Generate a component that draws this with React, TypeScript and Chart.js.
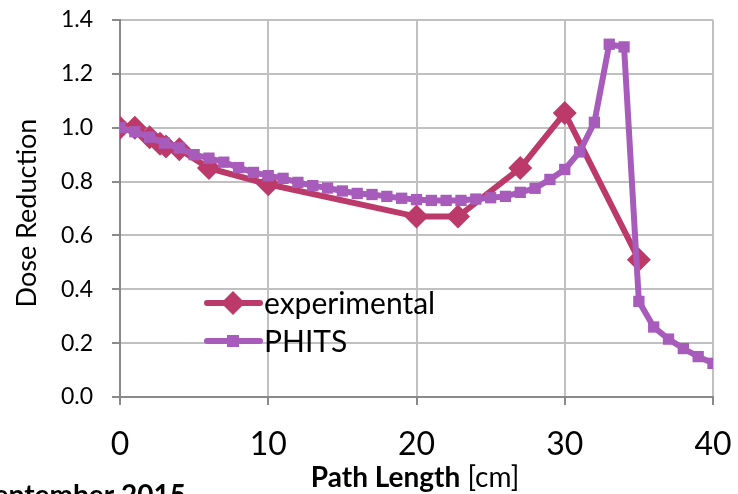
import React, { useEffect, useRef } from "react";
import { Chart, registerables } from "chart.js";

Chart.register(...registerables);

const expX = [0, 1, 2, 2.7, 3.1, 4, 6, 10, 20, 22.8, 27, 30, 35];
const expY = [1.0, 1.0, 0.965, 0.94, 0.93, 0.92, 0.85, 0.79, 0.67, 0.67, 0.85, 1.055, 0.51];

const phitsX = [0, 1, 2, 3, 4, 5, 6, 7, 8, 9, 10, 11, 12, 13, 14, 15, 16, 17, 18, 19, 20, 21, 22, 23, 24, 25, 26, 27, 28, 29, 30, 31, 32, 33, 34, 35, 36, 37, 38, 39, 40];
const phitsY = [1.0, 0.985, 0.965, 0.943, 0.925, 0.9, 0.887, 0.872, 0.852, 0.834, 0.822, 0.812, 0.797, 0.785, 0.776, 0.765, 0.756, 0.752, 0.745, 0.738, 0.733, 0.73, 0.73, 0.73, 0.735, 0.74, 0.745, 0.76, 0.775, 0.808, 0.845, 0.91, 1.02, 1.31, 1.3, 0.355, 0.26, 0.215, 0.18, 0.15, 0.125];

const xTicks = [0, 10, 20, 30, 40];
const yTickLabels = ["0.0", "0.2", "0.4", "0.6", "0.8", "1.0", "1.2", "1.4"];

const seriesNames = ["experimental", "PHITS"];
const EXP_COLOR = "#BC3A6A";
const PHITS_COLOR = "#A75CBC";
const FONT = "Lato, 'Open Sans', sans-serif";

export default function App() {
  const ref = useRef<HTMLCanvasElement | null>(null);

  useEffect(() => {
    if (!ref.current) return;
    const overlay = {
      id: "overlay",
      afterDraw(chart: any) {
        const ctx = chart.ctx;
        ctx.save();
        ctx.fillStyle = "#000";
        // y title
        ctx.save();
        ctx.translate(27, 213);
        ctx.rotate(-Math.PI / 2);
        ctx.font = `27px ${FONT}`;
        ctx.textAlign = "center";
        ctx.textBaseline = "middle";
        ctx.fillText("Dose Reduction", 0, 0);
        ctx.restore();
        // x title
        const boldTxt = "Path Length";
        const normTxt = " [cm]";
        ctx.font = `bold 28px ${FONT}`;
        const w1 = ctx.measureText(boldTxt).width;
        ctx.font = `28px ${FONT}`;
        const w2 = ctx.measureText(normTxt).width;
        const cx = 415;
        const sx = cx - (w1 + w2) / 2;
        ctx.textBaseline = "alphabetic";
        ctx.textAlign = "left";
        ctx.font = `bold 28px ${FONT}`;
        ctx.fillText(boldTxt, sx, 487);
        ctx.font = `28px ${FONT}`;
        ctx.fillText(normTxt, sx + w1, 487);
        // footer
        ctx.font = `bold 28px ${FONT}`;
        ctx.textAlign = "right";
        ctx.fillText("September 2015", 186, 505);
        // legend
        const items = [
          { name: seriesNames[0], color: EXP_COLOR, style: "diamond", y: 303 },
          { name: seriesNames[1], color: PHITS_COLOR, style: "square", y: 341 },
        ];
        for (const it of items) {
          ctx.strokeStyle = it.color;
          ctx.lineWidth = 6;
          ctx.lineCap = "round";
          ctx.beginPath();
          ctx.moveTo(207, it.y);
          ctx.lineTo(260, it.y);
          ctx.stroke();
          ctx.fillStyle = it.color;
          if (it.style === "diamond") {
            ctx.beginPath();
            ctx.moveTo(233, it.y - 12);
            ctx.lineTo(245, it.y);
            ctx.lineTo(233, it.y + 12);
            ctx.lineTo(221, it.y);
            ctx.closePath();
            ctx.fill();
          } else {
            ctx.fillRect(227, it.y - 6, 12, 12);
          }
          ctx.fillStyle = "#000";
          ctx.font = `30px ${FONT}`;
          ctx.textAlign = "left";
          ctx.textBaseline = "middle";
          ctx.fillText(it.name, 264, it.y + 1);
        }
        ctx.restore();
      },
    };

    const chart = new Chart(ref.current, {
      type: "line",
      data: {
        datasets: [
          {
            label: seriesNames[0],
            data: expX.map((x, i) => ({ x, y: expY[i] })),
            borderColor: EXP_COLOR,
            backgroundColor: EXP_COLOR,
            borderWidth: 6,
            pointStyle: "rectRot",
            pointRadius: 12,
            pointBorderWidth: 0,
            tension: 0,
            order: 2,
          },
          {
            label: seriesNames[1],
            data: phitsX.map((x, i) => ({ x, y: phitsY[i] })),
            borderColor: PHITS_COLOR,
            backgroundColor: PHITS_COLOR,
            borderWidth: 6,
            pointStyle: "rect",
            pointRadius: 8,
            pointBorderWidth: 0,
            tension: 0,
            order: 1,
          },
        ],
      },
      options: {
        responsive: false,
        animation: false,
        layout: { padding: { top: 20, right: 25, left: 0, bottom: 0 } },
        plugins: { legend: { display: false }, tooltip: { enabled: false }, title: { display: false } },
        scales: {
          x: {
            type: "linear",
            min: 0,
            max: 40,
            afterBuildTicks: (s: any) => {
              s.ticks = xTicks.map((v) => ({ value: v }));
            },
            afterFit: (s: any) => {
              s.height = 97;
              s.paddingLeft = 0;
              s.paddingRight = 0;
            },
            ticks: {
              font: { family: FONT, size: 32 },
              color: "#000",
              padding: 20,
              maxRotation: 0,
            },
            grid: { color: "#C0C0C0", lineWidth: 2, tickLength: 8, tickColor: "#8A8A8A" },
            border: { color: "#8A8A8A", width: 2 },
          },
          y: {
            type: "linear",
            min: 0,
            max: 1.4,
            ticks: {
              stepSize: 0.2,
              font: { family: FONT, size: 23 },
              color: "#000",
              padding: 19,
              callback: (_v: any, i: number) => yTickLabels[i],
            },
            afterFit: (s: any) => {
              s.width = 120;
              s.paddingTop = 0;
              s.paddingBottom = 0;
            },
            grid: { color: "#C0C0C0", lineWidth: 2, tickLength: 8, tickColor: "#8A8A8A" },
            border: { color: "#8A8A8A", width: 2 },
          },
        },
      },
      plugins: [overlay],
    } as any);
    return () => chart.destroy();
  }, []);

  return (
    <div style={{ position: "fixed", left: 0, top: 0, width: 738, height: 494, background: "#fff" }}>
      <canvas ref={ref} width={738} height={494} style={{ display: "block" }} />
    </div>
  );
}
